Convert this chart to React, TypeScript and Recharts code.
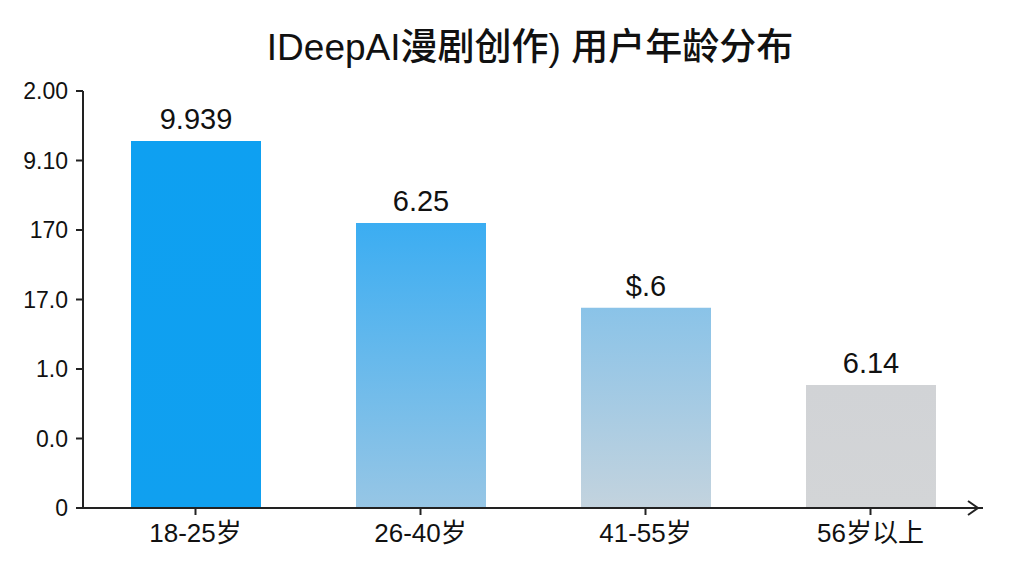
import React from 'react';
import { BarChart, Bar, XAxis, YAxis, LabelList, Cell } from 'recharts';

const categories = ['18-25岁', '26-40岁', '41-55岁', '56岁以上'];
const values = [5.28, 4.1, 2.88, 1.77];
const valueLabels = ['9.939', '6.25', '$.6', '6.14'];
const yTicks = [0, 1, 2, 3, 4, 5, 6];
const yTickLabels = ['0', '0.0', '1.0', '17.0', '170', '9.10', '2.00'];
const title = 'IDeepAI漫剧创作) 用户年龄分布';

const data = categories.map((c, i) => ({ name: c, value: values[i], label: valueLabels[i] }));

const FONT = '"Liberation Sans", Arial, "Noto Sans CJK SC", sans-serif';

export default function App() {
  return (
    <div style={{ position: 'fixed', left: 0, top: 0, width: 1024, height: 576, background: '#fff', fontFamily: FONT }}>
      <div style={{ position: 'absolute', left: 0, top: 24, width: 1060, textAlign: 'center', fontSize: 37, color: '#111', lineHeight: '48px', fontWeight: 500 }}>
        {title}
      </div>
      <BarChart width={1024} height={576} data={data} margin={{ top: 91, right: 41, bottom: 28, left: 23 }} barSize={130}>
        <defs>
          <linearGradient id="g0" x1="0" y1="0" x2="0" y2="1">
            <stop offset="0%" stopColor="#0ea0f1" />
            <stop offset="100%" stopColor="#10a0f0" />
          </linearGradient>
          <linearGradient id="g1" x1="0" y1="0" x2="0" y2="1">
            <stop offset="0%" stopColor="#3badf2" />
            <stop offset="100%" stopColor="#97c6e5" />
          </linearGradient>
          <linearGradient id="g2" x1="0" y1="0" x2="0" y2="1">
            <stop offset="0%" stopColor="#8ac3e8" />
            <stop offset="100%" stopColor="#c3d3de" />
          </linearGradient>
          <linearGradient id="g3" x1="0" y1="0" x2="0" y2="1">
            <stop offset="0%" stopColor="#d1d3d6" />
            <stop offset="100%" stopColor="#d3d5d7" />
          </linearGradient>
        </defs>
        <XAxis
          dataKey="name"
          height={40}
          axisLine={{ stroke: '#222', strokeWidth: 2 }}
          tickLine={{ stroke: '#222', strokeWidth: 2 }}
          tickSize={7}
          tick={{ fontSize: 26, fill: '#111', fontFamily: FONT }}
          tickMargin={9}
        />
        <YAxis
          width={60}
          domain={[0, 6]}
          ticks={yTicks}
          interval={0}
          axisLine={{ stroke: '#222', strokeWidth: 2 }}
          tickLine={{ stroke: '#222', strokeWidth: 2 }}
          tickSize={7}
          tickMargin={8}
          tick={{ fontSize: 23, fill: '#111', fontFamily: FONT }}
          tickFormatter={(v: number) => yTickLabels[yTicks.indexOf(v)] ?? ''}
        />
        <Bar dataKey="value" isAnimationActive={false}>
          {data.map((d, i) => (
            <Cell key={d.name} fill={`url(#g${i})`} />
          ))}
          <LabelList dataKey="label" position="top" offset={12} style={{ fontSize: 29, fill: '#111', fontFamily: FONT }} />
        </Bar>
      </BarChart>
      <svg style={{ position: 'absolute', left: 0, top: 0, pointerEvents: 'none' }} width={1024} height={576}>
        <polyline points="968,501 978,508 968,515" fill="none" stroke="#222" strokeWidth={2} />
      </svg>
    </div>
  );
}
